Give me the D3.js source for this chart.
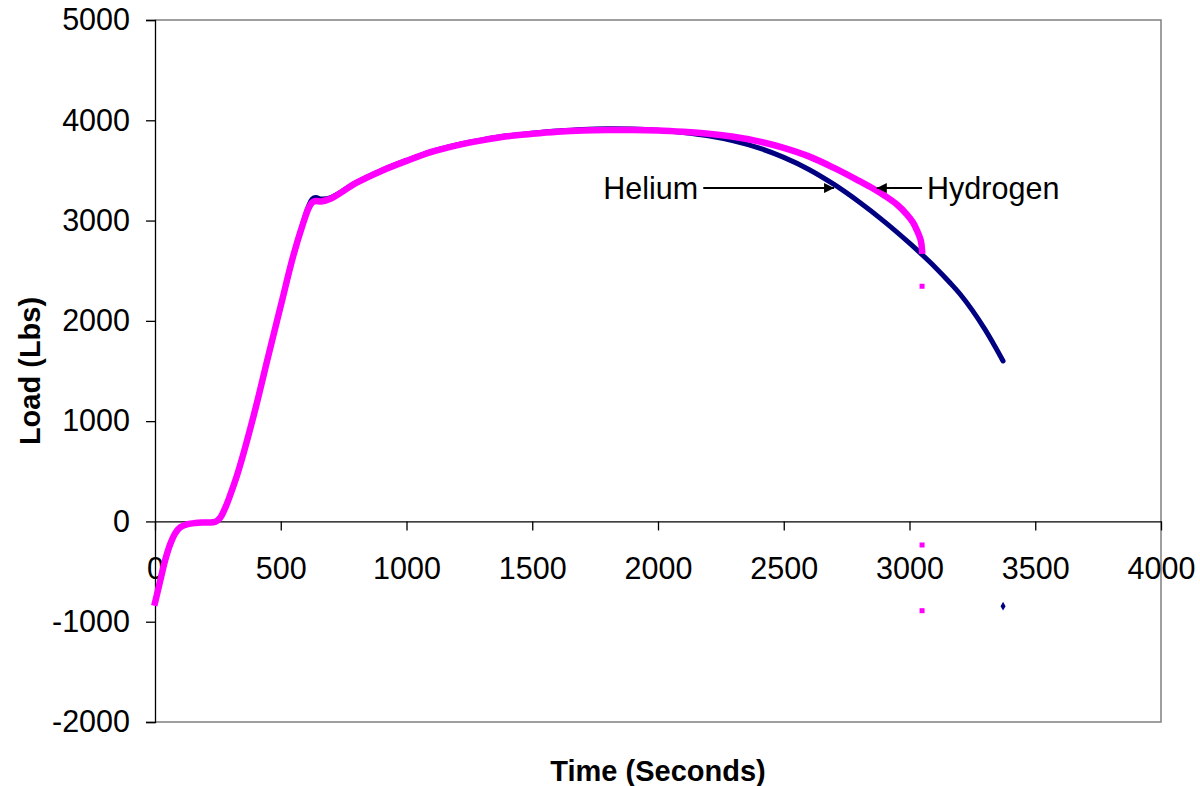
<!DOCTYPE html>
<html>
<head>
<meta charset="utf-8">
<script src="https://cdn.jsdelivr.net/npm/d3@7"></script>
<style>
  html, body { margin: 0; padding: 0; background: #fff; }
  svg { display: block; font-family: "Liberation Sans", Arial, sans-serif; }
</style>
</head>
<body>
<svg id="chart" width="1200" height="786"></svg>
<script>
// Load vs time, two gases. [seconds, lbs]
const xTicks = [0, 500, 1000, 1500, 2000, 2500, 3000, 3500, 4000]
const yTicks = [-2000, -1000, 0, 1000, 2000, 3000, 4000, 5000]

const helium = [
  [0, -810], [20, -600], [40, -390], [60, -230], [80, -120], [100, -60],
  [130, -28], [160, -16], [200, -10], [240, -4], [260, 40], [280, 140],
  [300, 270], [325, 450], [350, 660], [400, 1130], [450, 1645], [500, 2150],
  [550, 2650], [590, 2990], [610, 3140], [625, 3215], [640, 3230], [660, 3215],
  [700, 3230], [800, 3380], [900, 3500], [1000, 3600], [1100, 3690],
  [1200, 3755], [1300, 3805], [1400, 3845], [1500, 3870], [1600, 3892],
  [1700, 3908], [1800, 3915], [1900, 3912], [2000, 3900], [2100, 3878],
  [2200, 3845], [2300, 3795], [2400, 3725], [2500, 3630], [2600, 3510],
  [2700, 3360], [2800, 3185], [2900, 2990], [3000, 2775], [3050, 2660],
  [3100, 2540], [3161, 2380], [3200, 2270], [3250, 2105], [3300, 1915],
  [3340, 1745], [3372, 1600]
]

const hydrogen = [
  [0, -810], [20, -600], [40, -390], [60, -230], [80, -120], [100, -60],
  [130, -28], [160, -16], [200, -10], [240, -4], [260, 40], [280, 140],
  [300, 270], [325, 450], [350, 660], [400, 1130], [450, 1645], [500, 2150],
  [550, 2650], [590, 2980], [610, 3120], [625, 3180], [640, 3195], [660, 3190],
  [700, 3220], [800, 3375], [900, 3495], [1000, 3595], [1100, 3685],
  [1200, 3750], [1300, 3800], [1400, 3840], [1500, 3865], [1600, 3885],
  [1700, 3898], [1800, 3903], [1900, 3903], [2000, 3898], [2100, 3885],
  [2200, 3866], [2300, 3836], [2400, 3790], [2500, 3725], [2600, 3640],
  [2700, 3525], [2800, 3395], [2855, 3320], [2900, 3250], [2950, 3160],
  [2990, 3060], [3014, 2980], [3030, 2900], [3045, 2800], [3050, 2700]
]

// stray points below the end of each run
const hydrogenStray = [[3050, 2345], [3050, -235], [3050, -890]]
const heliumStray = [[3372, -845]]

const svg = d3.select("#chart")
const width = 1200
const height = 786
const plot = { left: 155, right: 1161, top: 20, bottom: 722 }
const font = "Liberation Sans, Arial, sans-serif"

const x = d3.scaleLinear().domain([0, 4000]).range([plot.left, plot.right])
const y = d3.scaleLinear().domain([-2000, 5000]).range([plot.bottom, plot.top])

svg.append("rect").attr("width", width).attr("height", height).attr("fill", "#fff")

// plot frame (grey top / right / bottom)
svg.append("path")
  .attr("d", `M${plot.left},${plot.top}H${plot.right}V${plot.bottom}H${plot.left}`)
  .attr("fill", "none")
  .attr("stroke", "#808080")
  .attr("stroke-width", 1.5)

// plain hyphen for negatives, like the original
const fmt = (d) => String(d)

// y axis on the left edge
const yAxis = svg.append("g")
  .attr("transform", `translate(${plot.left},0)`)
  .call(d3.axisLeft(y).tickValues(yTicks).tickSize(9).tickPadding(16).tickFormat(fmt))
yAxis.select(".domain").attr("stroke", "#000").attr("stroke-width", 1.3)
yAxis.selectAll(".tick line").attr("stroke", "#000").attr("stroke-width", 1.3)
yAxis.selectAll("text")
  .attr("font-size", 30.5)
  .attr("font-family", font)
  .attr("fill", "#000")

// x axis crosses at load = 0
const xAxis = svg.append("g")
  .attr("transform", `translate(0,${y(0)})`)
  .call(d3.axisBottom(x).tickValues(xTicks).tickSize(9).tickPadding(27).tickSizeOuter(0).tickFormat(fmt))
xAxis.select(".domain").attr("stroke", "#000").attr("stroke-width", 1.3)
xAxis.selectAll(".tick line").attr("stroke", "#000").attr("stroke-width", 1.3)
xAxis.selectAll("text")
  .attr("font-size", 30.5)
  .attr("font-family", font)
  .attr("fill", "#000")

// axis titles
svg.append("text")
  .attr("x", 658)
  .attr("y", 781)
  .attr("text-anchor", "middle")
  .attr("font-size", 29)
  .attr("font-weight", "bold")
  .text("Time (Seconds)")

svg.append("text")
  .attr("transform", `translate(40,${(plot.top + plot.bottom) / 2}) rotate(-90)`)
  .attr("text-anchor", "middle")
  .attr("font-size", 29)
  .attr("font-weight", "bold")
  .text("Load (Lbs)")

// the two runs
const line = d3.line()
  .x((d) => x(d[0]))
  .y((d) => y(d[1]))
  .curve(d3.curveCatmullRom.alpha(0.5))

svg.append("path")
  .datum(helium)
  .attr("d", line)
  .attr("fill", "none")
  .attr("stroke", "#000080")
  .attr("stroke-width", 5)
  .attr("stroke-linecap", "round")
  .attr("stroke-linejoin", "round")

svg.append("path")
  .datum(hydrogen)
  .attr("d", line)
  .attr("fill", "none")
  .attr("stroke", "#ff00ff")
  .attr("stroke-width", 6.5)
  .attr("stroke-linecap", "square")
  .attr("stroke-linejoin", "round")

svg.selectAll(".stray-he")
  .data(heliumStray)
  .join("path")
  .attr("class", "stray-he")
  .attr("transform", (d) => `translate(${x(d[0])},${y(d[1])})`)
  .attr("d", d3.symbol(d3.symbolDiamond, 22))
  .attr("fill", "#000080")

svg.selectAll(".stray-h2")
  .data(hydrogenStray)
  .join("rect")
  .attr("class", "stray-h2")
  .attr("x", (d) => x(d[0]) - 2.5)
  .attr("y", (d) => y(d[1]) - 2.5)
  .attr("width", 5)
  .attr("height", 5)
  .attr("fill", "#ff00ff")

// labels with arrows
const defs = svg.append("defs")
defs.append("marker")
  .attr("id", "head")
  .attr("viewBox", "0 0 10 10")
  .attr("refX", 10)
  .attr("refY", 5)
  .attr("markerWidth", 6)
  .attr("markerHeight", 5)
  .attr("markerUnits", "strokeWidth")
  .attr("orient", "auto")
  .append("path")
  .attr("d", "M0,0L10,5L0,10z")
  .attr("fill", "#000")

const notes = [
  { text: "Helium", tx: 2160, from: 2180, to: 2700, anchor: "end" },
  { text: "Hydrogen", tx: 3070, from: 3050, to: 2870, anchor: "start" }
]
const noteLoad = 3324

notes.forEach((n) => {
  svg.append("line")
    .attr("x1", x(n.from))
    .attr("x2", x(n.to))
    .attr("y1", y(noteLoad))
    .attr("y2", y(noteLoad))
    .attr("stroke", "#000")
    .attr("stroke-width", 2)
    .attr("marker-end", "url(#head)")
  svg.append("text")
    .attr("x", x(n.tx))
    .attr("y", y(noteLoad) + 11)
    .attr("text-anchor", n.anchor)
    .attr("font-size", 30.5)
    .attr("font-family", font)
    .text(n.text)
})
</script>
</body>
</html>
